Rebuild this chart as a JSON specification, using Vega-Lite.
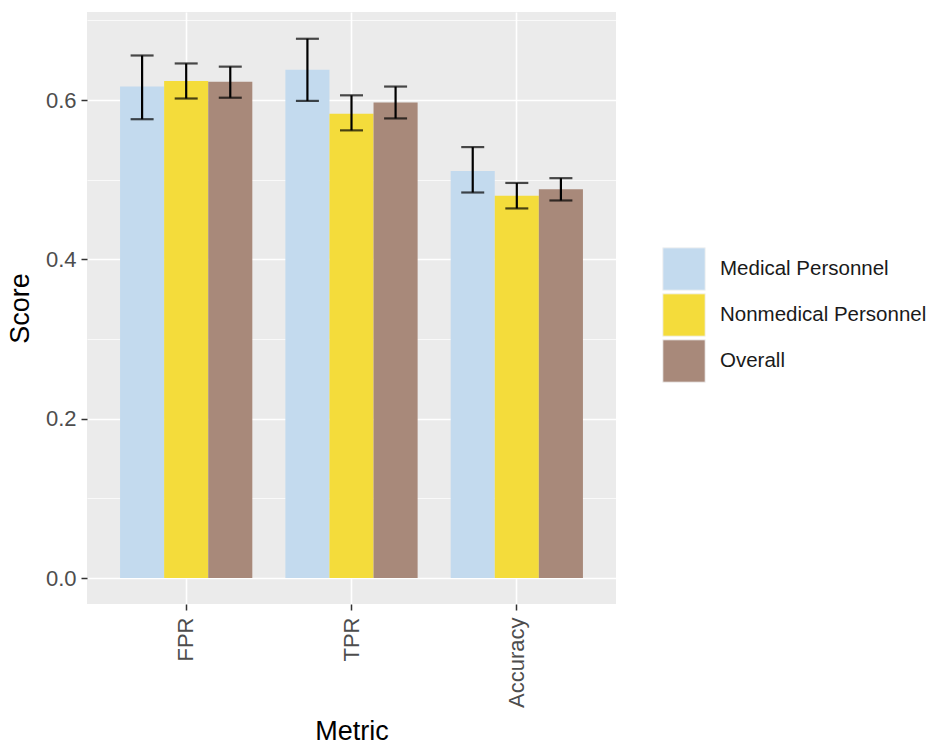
{
  "$schema": "https://vega.github.io/schema/vega-lite/v6.json",
  "width": 529,
  "height": 592,
  "autosize": {"type": "none"},
  "padding": {"left": 87, "top": 12, "right": 311, "bottom": 144},
  "background": "white",
  "config": {
    "view": {"fill": "#EBEBEB", "stroke": null},
    "font": "Liberation Sans",
    "axis": {
      "domain": false,
      "grid": true,
      "gridColor": "white",
      "gridWidth": 1.6,
      "tickColor": "#333333",
      "tickSize": 6,
      "tickWidth": 1.5,
      "labelColor": "#4D4D4D",
      "labelFontSize": 22,
      "titleFontSize": 27,
      "titleFontWeight": "normal",
      "titleColor": "black"
    }
  },
  "data": {
    "values": [
      {"metric": "FPR", "group": "Medical Personnel", "score": 0.617, "lower": 0.576, "upper": 0.656},
      {"metric": "FPR", "group": "Nonmedical Personnel", "score": 0.624, "lower": 0.602, "upper": 0.646},
      {"metric": "FPR", "group": "Overall", "score": 0.623, "lower": 0.603, "upper": 0.642},
      {"metric": "TPR", "group": "Medical Personnel", "score": 0.638, "lower": 0.599, "upper": 0.677},
      {"metric": "TPR", "group": "Nonmedical Personnel", "score": 0.583, "lower": 0.562, "upper": 0.606},
      {"metric": "TPR", "group": "Overall", "score": 0.597, "lower": 0.577, "upper": 0.617},
      {"metric": "Accuracy", "group": "Medical Personnel", "score": 0.511, "lower": 0.484, "upper": 0.541},
      {"metric": "Accuracy", "group": "Nonmedical Personnel", "score": 0.480, "lower": 0.464, "upper": 0.496},
      {"metric": "Accuracy", "group": "Overall", "score": 0.488, "lower": 0.474, "upper": 0.502}
    ]
  },
  "encoding": {
    "x": {
      "field": "metric",
      "type": "nominal",
      "sort": ["FPR", "TPR", "Accuracy"],
      "title": "Metric",
      "scale": {"paddingInner": 0.2, "paddingOuter": 0.2},
      "axis": {
        "labelAngle": 270,
        "labelAlign": "right",
        "labelBaseline": "middle",
        "labelPadding": 7,
        "labelFontSize": 22,
        "labelColor": "#4D4D4D",
        "titleFontSize": 27,
        "bandPosition": 0.5,
        "titlePadding": 11
      }
    },
    "xOffset": {
      "field": "group",
      "type": "nominal",
      "sort": ["Medical Personnel", "Nonmedical Personnel", "Overall"],
      "scale": {"paddingInner": 0, "paddingOuter": 0}
    }
  },
  "layer": [
    {
      "mark": {"type": "bar"},
      "encoding": {
        "y": {
          "field": "score",
          "type": "quantitative",
          "title": "Score",
          "scale": {"domain": [-0.0326, 0.7106], "nice": false},
          "axis": {
            "values": [0, 0.1, 0.2, 0.3, 0.4, 0.5, 0.6, 0.7],
            "labelExpr": "round(datum.value*10) % 2 == 0 ? format(datum.value, '.1f') : ''",
            "gridWidth": {"condition": {"test": "round(datum.value*10) % 2 == 0", "value": 1.6}, "value": 0.7},
            "tickOpacity": {"condition": {"test": "round(datum.value*10) % 2 == 0", "value": 1}, "value": 0},
            "labelPadding": 5,
            "labelFontSize": 22,
            "labelColor": "#4D4D4D",
            "titleFontSize": 27,
            "titlePadding": 11
          }
        },
        "color": {
          "field": "group",
          "type": "nominal",
          "sort": ["Medical Personnel", "Nonmedical Personnel", "Overall"],
          "scale": {"range": ["#C3DAEE", "#F4DC3B", "#A8897A"]},
          "legend": {
            "title": null,
            "orient": "none",
            "legendX": 575,
            "legendY": 235,
            "symbolType": "square",
            "symbolSize": 1800,
            "symbolStrokeColor": "#F2F2F2",
            "symbolStrokeWidth": 1,
            "labelFontSize": 20.5,
            "labelLimit": 400,
            "labelColor": "#1A1A1A",
            "labelOffset": 14,
            "rowPadding": -3
          }
        }
      }
    },
    {
      "mark": {"type": "rule", "color": "black", "strokeWidth": 2.2},
      "encoding": {
        "y": {"field": "lower", "type": "quantitative", "title": "Score"},
        "y2": {"field": "upper"}
      }
    },
    {
      "mark": {"type": "tick", "color": "black", "thickness": 2.2, "size": 23},
      "encoding": {
        "y": {"field": "lower", "type": "quantitative", "title": "Score"}
      }
    },
    {
      "mark": {"type": "tick", "color": "black", "thickness": 2.2, "size": 23},
      "encoding": {
        "y": {"field": "upper", "type": "quantitative", "title": "Score"}
      }
    }
  ]
}
